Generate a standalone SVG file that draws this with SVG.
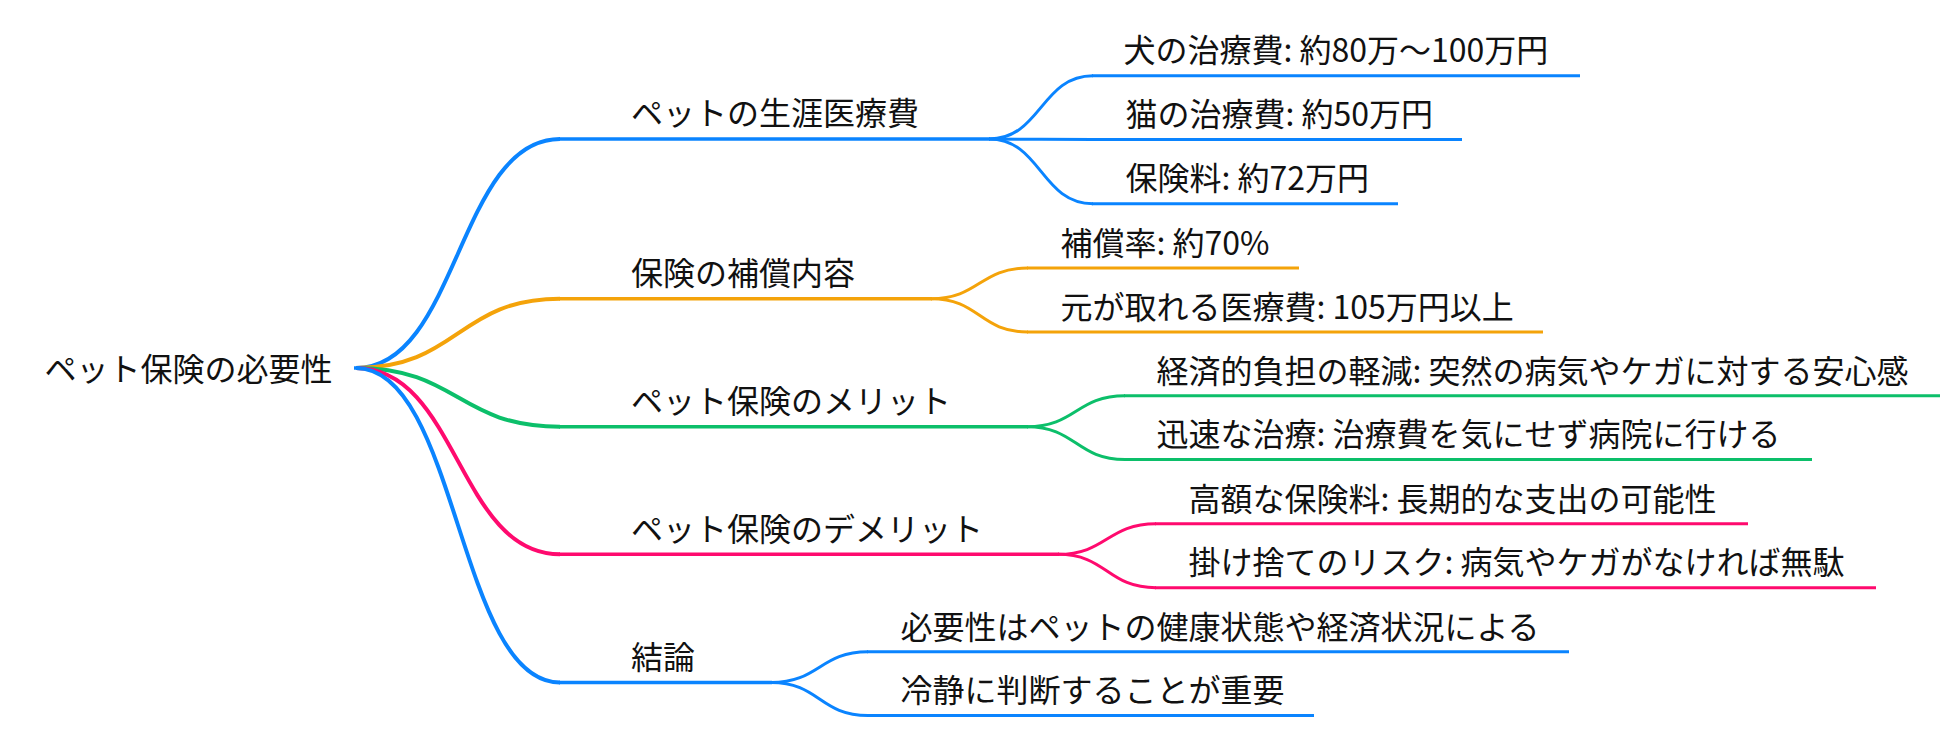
<svg xmlns="http://www.w3.org/2000/svg" width="1960" height="736" viewBox="0 0 1960 736">
<style>
text{font-family:"Noto Sans CJK JP","Noto Sans CJK SC","Noto Sans",sans-serif;font-size:32px;fill:#111;}
.c{fill:none;stroke-linecap:butt;}
.r{stroke-width:4;}
.k{stroke-width:3;}
.u1{fill:none;stroke-width:3.5;}
.u2{fill:none;stroke-width:3;}
.blue{stroke:#0a84ff;}
.orange{stroke:#f4a30a;}
.green{stroke:#0cbf6a;}
.pink{stroke:#ff0a6e;}
</style>
<rect width="1960" height="736" fill="#ffffff"/>
<g id="connectors">
<path class="c r blue" d="M356,368 C458,368 458,139 560,139"/>
<path class="c r orange" d="M356,368 C458,368 458,298.7 560,298.7"/>
<path class="c r green" d="M356,368 C458,368 458,426.7 560,426.7"/>
<path class="c r pink" d="M356,368 C458,368 458,554.3 560,554.3"/>
<path class="c r blue" d="M356,368 C458,368 458,682.5 560,682.5"/>
<path class="c k blue" d="M989,139 C1041,139 1041,75.7 1093,75.7"/>
<path class="c k blue" d="M989,139 C1041,139 1041,139.6 1093,139.6"/>
<path class="c k blue" d="M989,139 C1041,139 1041,203.7 1093,203.7"/>
<path class="c k orange" d="M931,298.7 C979.5,298.7 979.5,268 1028,268"/>
<path class="c k orange" d="M931,298.7 C979.5,298.7 979.5,332 1028,332"/>
<path class="c k green" d="M1027,426.7 C1076,426.7 1076,395.8 1125,395.8"/>
<path class="c k green" d="M1027,426.7 C1076,426.7 1076,459.5 1125,459.5"/>
<path class="c k pink" d="M1058,554.3 C1107,554.3 1107,523.8 1156,523.8"/>
<path class="c k pink" d="M1058,554.3 C1107,554.3 1107,587.7 1156,587.7"/>
<path class="c k blue" d="M771,682.5 C819.5,682.5 819.5,651.8 868,651.8"/>
<path class="c k blue" d="M771,682.5 C819.5,682.5 819.5,715.5 868,715.5"/>
</g>
<g id="root">
<path class="u1 blue" d="M354,368 H360"/>
<text x="44.5" y="381">ペット保険の必要性</text>
</g>
<g id="n-lifetime-cost">
<path class="u1 blue" d="M559,139 H990"/>
<text x="631" y="125">ペットの生涯医療費</text>
</g>
<g id="n-dog">
<path class="u2 blue" d="M1092,75.7 H1580"/>
<text x="1123.5" y="62">犬の治療費: 約80万〜100万円</text>
</g>
<g id="n-cat">
<path class="u2 blue" d="M1092,139.6 H1462"/>
<text x="1125.5" y="126">猫の治療費: 約50万円</text>
</g>
<g id="n-premium">
<path class="u2 blue" d="M1092,203.7 H1398"/>
<text x="1125.5" y="190">保険料: 約72万円</text>
</g>
<g id="n-coverage">
<path class="u1 orange" d="M559,298.7 H932"/>
<text x="631" y="285">保険の補償内容</text>
</g>
<g id="n-rate">
<path class="u2 orange" d="M1027,268 H1299"/>
<text x="1060.5" y="254.5">補償率: 約70%</text>
</g>
<g id="n-breakeven">
<path class="u2 orange" d="M1027,332 H1543"/>
<text x="1060.5" y="318.5">元が取れる医療費: 105万円以上</text>
</g>
<g id="n-merit">
<path class="u1 green" d="M559,426.7 H1028"/>
<text x="631" y="413">ペット保険のメリット</text>
</g>
<g id="n-relief">
<path class="u2 green" d="M1124,395.8 H1940"/>
<text x="1156.5" y="382.5">経済的負担の軽減: 突然の病気やケガに対する安心感</text>
</g>
<g id="n-quick">
<path class="u2 green" d="M1124,459.5 H1812"/>
<text x="1156.5" y="446">迅速な治療: 治療費を気にせず病院に行ける</text>
</g>
<g id="n-demerit">
<path class="u1 pink" d="M559,554.3 H1059"/>
<text x="631" y="541">ペット保険のデメリット</text>
</g>
<g id="n-expensive">
<path class="u2 pink" d="M1155,523.8 H1748"/>
<text x="1188.5" y="510.5">高額な保険料: 長期的な支出の可能性</text>
</g>
<g id="n-nonrefund">
<path class="u2 pink" d="M1155,587.7 H1876"/>
<text x="1188.5" y="574">掛け捨てのリスク: 病気やケガがなければ無駄</text>
</g>
<g id="n-conclusion">
<path class="u1 blue" d="M559,682.5 H772"/>
<text x="631" y="669">結論</text>
</g>
<g id="n-depends">
<path class="u2 blue" d="M867,651.8 H1569"/>
<text x="900.5" y="638.5">必要性はペットの健康状態や経済状況による</text>
</g>
<g id="n-calm">
<path class="u2 blue" d="M867,715.5 H1314"/>
<text x="900.5" y="702">冷静に判断することが重要</text>
</g>
</svg>
